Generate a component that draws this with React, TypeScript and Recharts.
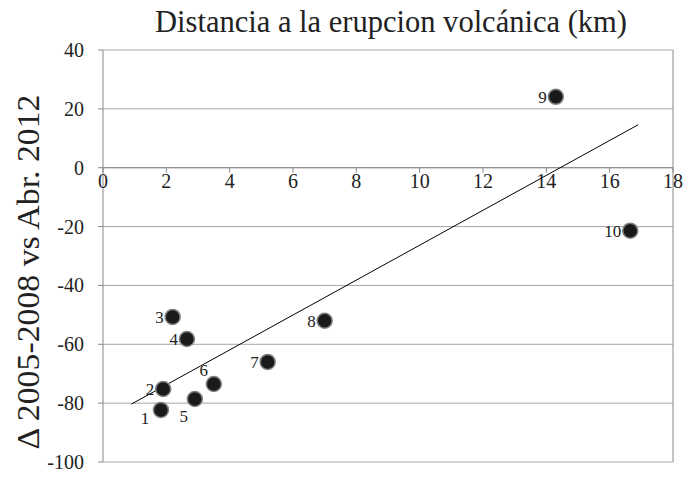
import { ScatterChart, Scatter, XAxis, YAxis, CartesianGrid, ReferenceLine, ReferenceDot } from 'recharts';

const xTicks = [0, 2, 4, 6, 8, 10, 12, 14, 16, 18];
const yTicks = [-100, -80, -60, -40, -20, 0, 20, 40];

const pointIds = [1, 2, 3, 4, 5, 6, 7, 8, 9, 10];
const distanceKm = [1.83, 1.9, 2.2, 2.65, 2.9, 3.5, 5.2, 7.0, 14.3, 16.65];
const deltaValues = [-82.3, -75.2, -50.7, -58.2, -78.6, -73.5, -66, -52, 24.1, -21.4];

const trendX = [0.9, 16.9];
const trendY = [-80.3, 14.6];

const points = pointIds.map((id, i) => ({ id, x: distanceKm[i], y: deltaValues[i] }));
const trend = trendX.map((x, i) => ({ x, y: trendY[i] }));

// where each point's number sits relative to the marker
const labelOffset: Record<number, { dx: number; dy: number; anchor: string }> = {
  1: { dx: -16, dy: 14, anchor: 'middle' },
  5: { dx: -11, dy: 23, anchor: 'middle' },
  6: { dx: -10, dy: -8, anchor: 'middle' },
};

const FONT = "'Liberation Serif', 'Times New Roman', serif";

const PointShape = (props: any) => {
  const { cx, cy, payload } = props;
  const off = labelOffset[payload.id] || { dx: -9, dy: 6, anchor: 'end' };
  return (
    <g>
      <circle cx={cx} cy={cy} r={7.5} fill="#1a1a1a" stroke="#808080" strokeWidth={1.5} />
      <text x={cx + off.dx} y={cy + off.dy} textAnchor={off.anchor} fontSize={17} style={{ fontFamily: FONT }} fill="#222">
        {payload.id}
      </text>
    </g>
  );
};

const XTickAtZero = (value: number) => (props: any) => {
  const { cx, cy } = props;
  if (cx == null || cy == null) return <g />;
  return (
    <g>
      <line x1={cx} y1={cy} x2={cx} y2={cy + 5} stroke="#888" />
      <text x={cx} y={cy + 20} textAnchor="middle" fontSize={20} style={{ fontFamily: FONT }} fill="#222">
        {value}
      </text>
    </g>
  );
};

const YTick = (props: any) => {
  const { x, y, payload } = props;
  return (
    <text x={x - 12} y={y + 7} textAnchor="end" fontSize={20} style={{ fontFamily: FONT }} fill="#222">
      {payload.value}
    </text>
  );
};

const YLabel = () => (
  <text
    x={0}
    y={0}
    transform="translate(39, 272) rotate(-90)"
    textAnchor="middle"
    fontSize={32}
    textLength={355}
    lengthAdjust="spacingAndGlyphs"
    style={{ fontFamily: FONT }}
    fill="#222"
  >
    Δ 2005-2008 vs Abr. 2012
  </text>
);

export default function App() {
  return (
    <div style={{ width: 687, height: 478, background: '#fff', position: 'absolute', top: 0, left: 0 }}>
      <svg width={687} height={44} style={{ position: 'absolute', top: 0, left: 0 }}>
        <text
          x={391}
          y={32}
          textAnchor="middle"
          fontSize={32}
          textLength={472}
          lengthAdjust="spacingAndGlyphs"
          style={{ fontFamily: FONT }}
          fill="#222"
        >
          Distancia a la erupcion volcánica (km)
        </text>
      </svg>
      <ScatterChart width={687} height={478} margin={{ top: 50, right: 14, bottom: 16, left: 0 }}>
        <CartesianGrid vertical={false} stroke="#a6a6a6" />
        <XAxis type="number" dataKey="x" domain={[0, 18]} ticks={xTicks} hide />
        <YAxis
          type="number"
          dataKey="y"
          domain={[-100, 40]}
          ticks={yTicks}
          width={103}
          stroke="#888"
          tickSize={5}
          tick={<YTick />}
          label={<YLabel />}
        />
        <ReferenceLine x={18} stroke="#888" />
        <ReferenceLine y={0} stroke="#888" />
        {xTicks.map((t) => (
          <ReferenceDot key={t} x={t} y={0} r={0} shape={XTickAtZero(t)} />
        ))}
        <Scatter
          data={trend}
          line={{ stroke: '#000', strokeWidth: 1 }}
          shape={() => <g />}
          isAnimationActive={false}
        />
        <Scatter data={points} shape={PointShape} isAnimationActive={false} />
      </ScatterChart>
    </div>
  );
}
